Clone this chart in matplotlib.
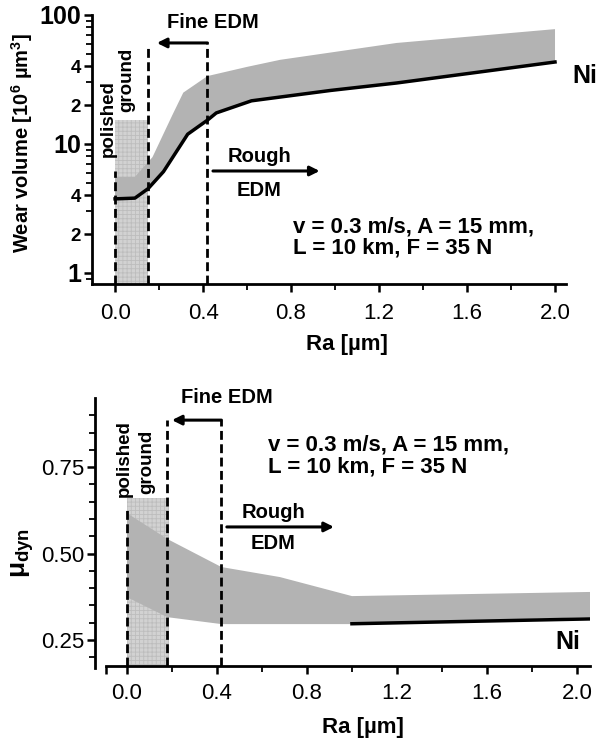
import matplotlib
matplotlib.use("Agg")
import matplotlib.pyplot as plt
import matplotlib.ticker as mticker
from matplotlib import font_manager as fm
import numpy as np

# ---------------- data ----------------
# top: wear volume (10^6 um^3) vs Ra
ra_line = [0.0, 0.09, 0.15, 0.22, 0.33, 0.42, 0.46, 0.62, 0.75, 0.98, 1.28, 2.0]
wear_line = [3.75, 3.8, 4.5, 6.1, 11.9, 15.3, 17.4, 21.6, 23.1, 26.0, 29.7, 43.2]
ra_upper = [0.0, 0.09, 0.15, 0.17, 0.26, 0.31, 0.42, 0.60, 0.75, 1.28, 2.0]
wear_upper = [5.55, 5.55, 7.24, 7.9, 16.7, 25.0, 33.6, 39.6, 44.9, 60.7, 77.7]

# bottom: mu_dyn vs Ra
ra_mu_upper = [0.0, 0.18, 0.42, 0.68, 1.0, 2.06]
mu_upper = [0.617, 0.542, 0.461, 0.432, 0.377, 0.389]
ra_mu_lower = [0.0, 0.18, 0.42, 1.0, 2.06]
mu_lower = [0.374, 0.316, 0.296, 0.296, 0.316]
ra_mu_line = [1.0, 2.06]
mu_line = [0.297, 0.311]

top_xticks = [0.0, 0.4, 0.8, 1.2, 1.6, 2.0]
top_xticklabels = ["0.0", "0.4", "0.8", "1.2", "1.6", "2.0"]
top_yticks = [1, 2, 4, 10, 20, 40, 100]
top_yticklabels = ["1", "2", "4", "10", "2", "4", "100"]
bot_xticks = [-0.093, 0.0, 0.4, 0.8, 1.2, 1.6, 2.0]
bot_xticklabels = ["", "0.0", "0.4", "0.8", "1.2", "1.6", "2.0"]
bot_yticks = [0.25, 0.50, 0.75]
bot_yticklabels = ["0.25", "0.50", "0.75"]

# ---------------- fonts ----------------
names = {f.name for f in fm.fontManager.ttflist}
BASE = "Liberation Sans" if "Liberation Sans" in names else "DejaVu Sans"
NARROW = "Liberation Sans Narrow" if "Liberation Sans Narrow" in names else BASE
plt.rcParams["font.family"] = [BASE, "DejaVu Sans"]
plt.rcParams["mathtext.fontset"] = "custom"
plt.rcParams["mathtext.rm"] = BASE
plt.rcParams["mathtext.bf"] = BASE + ":bold"
plt.rcParams["mathtext.it"] = BASE + ":italic"
plt.rcParams["hatch.linewidth"] = 0.6
plt.rcParams["hatch.color"] = "#bdbdbd"

BAND = "#b3b3b3"
RECT = "#d2d2d2"

W, H = 599, 742
fig = plt.figure(figsize=(W / 100, H / 100), dpi=100)


def px2fig(x, y):
    return x / W, 1 - y / H


def dashed(ax, x, y0, y1):
    ln, = ax.plot([x, x], [y0, y1], color="black", lw=2.0, clip_on=False, zorder=4)
    ln.set_dashes((3.2, 1.6))


# =============== TOP ===============
ax1 = fig.add_axes([92 / W, 1 - 284 / H, (566 - 92) / W, (284 - 15) / H])
ax1.set_yscale("log")
ax1.set_xlim(-0.105, 2.05)
ax1.set_ylim(0.82, 100)
for s in ["top", "right"]:
    ax1.spines[s].set_visible(False)
for s in ["left", "bottom"]:
    ax1.spines[s].set_linewidth(2.0)

# polished/ground region
ax1.fill_between([0.0, 0.15], [0.82, 0.82], [15.3, 15.3], facecolor=RECT,
                 edgecolor="#bdbdbd", hatch="++++", lw=0, zorder=1)
# band
ax1.fill(ra_upper + ra_line[::-1], wear_upper + wear_line[::-1],
         color=BAND, lw=0, zorder=2)
ax1.plot(ra_line, wear_line, color="black", lw=2.5, zorder=3)

dashed(ax1, 0.0, 0.82, 6.2)
dashed(ax1, 0.15, 0.82, 60)
dashed(ax1, 0.42, 0.82, 60.7)
ax1.annotate("", xy=(0.19, 60.7), xytext=(0.42, 60.7),
             arrowprops=dict(arrowstyle="-|>", lw=2.2, color="black",
                             mutation_scale=14, shrinkA=0, shrinkB=0))
ax1.annotate("", xy=(0.93, 6.17), xytext=(0.445, 6.17),
             arrowprops=dict(arrowstyle="-|>", lw=2.2, color="black",
                             mutation_scale=14, shrinkA=0, shrinkB=0))

TXT = 14.5
ax1.text(0.445, 88, "Fine EDM", ha="center", va="center", fontsize=TXT,
         fontweight="bold", clip_on=False)
ax1.text(-0.032, 7.9, "polished", rotation=90, ha="center", va="bottom",
         fontsize=13.5, fontweight="bold")
ax1.text(0.055, 17.7, "ground", rotation=90, ha="center", va="bottom",
         fontsize=13.5, fontweight="bold")
ax1.text(0.655, 8.05, "Rough", ha="center", va="center", fontsize=TXT, fontweight="bold")
ax1.text(0.655, 4.32, "EDM", ha="center", va="center", fontsize=TXT, fontweight="bold")
ax1.text(0.81, 2.27, "v = 0.3 m/s, A = 15 mm,", ha="left", va="center",
         fontsize=16, fontweight="bold")
ax1.text(0.81, 1.56, "L = 10 km, F = 35 N", ha="left", va="center",
         fontsize=16, fontweight="bold")
ax1.text(2.077, 33.6, "Ni", ha="left", va="center", fontsize=18,
         fontweight="bold", clip_on=False)

ax1.set_xticks(top_xticks)
ax1.set_xticklabels(top_xticklabels, fontfamily=NARROW, fontsize=16)
ax1.xaxis.set_minor_locator(mticker.FixedLocator(np.arange(0.2, 2.0, 0.4)))
ax1.set_yticks(top_yticks)
ax1.set_yticklabels(top_yticklabels, fontweight="bold")
for lab, val in zip(ax1.get_yticklabels(), top_yticks):
    lab.set_fontsize(18 if val in (1, 10, 100) else 13.5)
ax1.yaxis.set_minor_locator(mticker.LogLocator(base=10, subs=[3, 5, 6, 7, 8, 9]))
ax1.yaxis.set_minor_formatter(mticker.NullFormatter())
ax1.tick_params(axis="both", which="major", direction="out", length=6, width=1.8, color="black")
ax1.tick_params(axis="both", which="minor", direction="out", length=4, width=1.3)
ax1.tick_params(axis="x", which="major", pad=8)
ax1.tick_params(axis="y", which="major", pad=2)

x, y = px2fig(22, 143)
fig.text(x, y, r"$\mathbf{Wear\ volume\ [10^6\ µm^3]}$", rotation=90,
         ha="center", va="center", fontsize=14.5)
x, y = px2fig(347, 345)
fig.text(x, y, "Ra [µm]", ha="center", va="center", fontsize=16, fontweight="bold")

# =============== BOTTOM ===============
ax2 = fig.add_axes([95 / W, 1 - 668 / H, (590 - 95) / W, (668 - 398) / H])
ax2.set_xlim(-0.142, 2.058)
ax2.set_ylim(0.169, 0.95)
for s in ["top", "right"]:
    ax2.spines[s].set_visible(False)
for s in ["left", "bottom"]:
    ax2.spines[s].set_linewidth(2.0)
ax2.spines["bottom"].set_position(("data", 0.175))
ax2.spines["bottom"].set_bounds(-0.093, 2.058)

ax2.fill_between([0.0, 0.187], [0.175, 0.175], [0.66, 0.66], facecolor=RECT,
                 edgecolor="#bdbdbd", hatch="++++", lw=0, zorder=1)
ax2.fill(ra_mu_upper + ra_mu_lower[::-1], mu_upper + mu_lower[::-1],
         color=BAND, lw=0, zorder=2)
ax2.plot(ra_mu_line, mu_line, color="black", lw=2.5, zorder=3)

dashed(ax2, 0.0, 0.175, 0.626)
dashed(ax2, 0.18, 0.175, 0.886)
dashed(ax2, 0.42, 0.175, 0.886)
ax2.annotate("", xy=(0.2, 0.886), xytext=(0.42, 0.886),
             arrowprops=dict(arrowstyle="-|>", lw=2.2, color="black",
                             mutation_scale=14, shrinkA=0, shrinkB=0))
ax2.annotate("", xy=(0.92, 0.577), xytext=(0.444, 0.577),
             arrowprops=dict(arrowstyle="-|>", lw=2.2, color="black",
                             mutation_scale=14, shrinkA=0, shrinkB=0))

ax2.text(0.444, 0.952, "Fine EDM", ha="center", va="center", fontsize=TXT,
         fontweight="bold", clip_on=False)
ax2.text(-0.013, 0.665, "polished", rotation=90, ha="center", va="bottom",
         fontsize=13.5, fontweight="bold")
ax2.text(0.089, 0.672, "ground", rotation=90, ha="center", va="bottom",
         fontsize=13.5, fontweight="bold")
ax2.text(0.65, 0.62, "Rough", ha="center", va="center", fontsize=TXT, fontweight="bold")
ax2.text(0.65, 0.53, "EDM", ha="center", va="center", fontsize=TXT, fontweight="bold")
ax2.text(0.627, 0.814, "v = 0.3 m/s, A = 15 mm,", ha="left", va="center",
         fontsize=16, fontweight="bold")
ax2.text(0.627, 0.75, "L = 10 km, F = 35 N", ha="left", va="center",
         fontsize=16, fontweight="bold")
ax2.text(1.96, 0.244, "Ni", ha="center", va="center", fontsize=18, fontweight="bold")

ax2.set_xticks(bot_xticks)
ax2.set_xticklabels(bot_xticklabels, fontfamily=NARROW, fontsize=16)
ax2.xaxis.set_minor_locator(mticker.FixedLocator(np.arange(0.2, 2.0, 0.4)))
ax2.set_yticks(bot_yticks)
ax2.set_yticklabels(bot_yticklabels, fontfamily=NARROW, fontsize=16)
ax2.yaxis.set_minor_locator(mticker.FixedLocator(np.arange(0.2, 0.91, 0.05)))
ax2.tick_params(axis="both", which="major", direction="out", length=6, width=1.8)
ax2.tick_params(axis="both", which="minor", direction="out", length=4, width=1.3)
ax2.tick_params(axis="x", which="major", pad=6)
ax2.tick_params(axis="y", which="major", pad=2)

x, y = px2fig(23, 553)
fig.text(x, y, r"$\mathbf{μ_{dyn}}$", rotation=90, ha="center", va="center", fontsize=19)
x, y = px2fig(363, 727)
fig.text(x, y, "Ra [µm]", ha="center", va="center", fontsize=16, fontweight="bold")

fig.savefig("out.png", dpi=100, facecolor="white")
